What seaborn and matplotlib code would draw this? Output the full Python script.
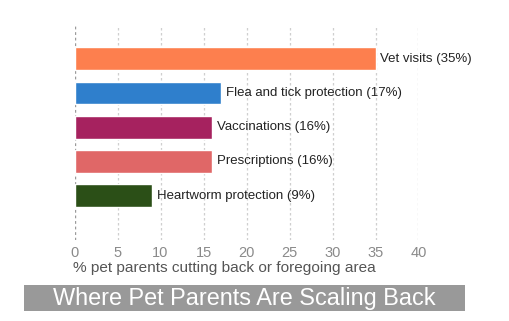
import matplotlib
matplotlib.use("Agg")
import matplotlib.pyplot as plt
import seaborn as sns
import pandas as pd
from matplotlib.patches import Rectangle

categories = ["Vet visits", "Flea and tick protection", "Vaccinations",
              "Prescriptions", "Heartworm protection"]
values = [35, 17, 16, 16, 9]
colors = ["#fd7f4e", "#2f7fcc", "#a6225f", "#e06767", "#2b4f17"]
x_ticks = [0, 5, 10, 15, 20, 25, 30, 35, 40]
x_label = "% pet parents cutting back or foregoing area"
title = "Where Pet Parents Are Scaling Back"

sns.set_theme(style="white")
plt.rcParams["font.family"] = ["Liberation Sans", "DejaVu Sans"]

df = pd.DataFrame({"category": categories, "value": values})

fig = plt.figure(figsize=(5.09, 3.21), dpi=100)
ax = fig.add_axes([0.1464, 0.2523, 0.8222 - 0.1464, 0.9221 - 0.2523])

sns.barplot(data=df, x="value", y="category", hue="category",
            palette=colors, orient="h", width=0.67, legend=False, ax=ax,
            saturation=1, zorder=3)

ax.set_xlim(0, 40)
ax.set_ylim(5.30, -0.99)
ax.set_xticks(x_ticks)
ax.set_xticklabels([str(t) for t in x_ticks])
ax.set_yticks([])
ax.set_ylabel("")
ax.set_xlabel("")
ax.tick_params(axis="x", length=0, labelsize=10.5, labelcolor="#8a8a8a", pad=4)

ax.text(-0.005, -0.098, x_label, transform=ax.transAxes, ha="left", va="top",
        fontsize=11.1, color="#555555")

for s in ax.spines.values():
    s.set_visible(False)

for t in x_ticks[1:]:
    ax.axvline(t, color="#cfcfcf", lw=0.9, ls=(0, (2, 2)), zorder=1)
ax.axvline(0, color="#9a9a9a", lw=1.0, ls=(0, (2, 2)), zorder=1)

for i, (c, v) in enumerate(zip(categories, values)):
    ax.annotate(f"{c} ({v}%)", xy=(v, i), xytext=(3.5, 0),
                textcoords="offset points", va="center", ha="left",
                fontsize=9.5, color="#222222", zorder=4)

fig.patches.append(Rectangle((23.5 / 509, 1 - 311 / 321), (465 - 23.5) / 509,
                             26 / 321, transform=fig.transFigure,
                             facecolor="#999999", edgecolor="none"))
fig.text(244 / 509, 1 - 298.5 / 321, title, ha="center", va="center",
         fontsize=16.9, color="white")

fig.savefig("out.png", dpi=100)
